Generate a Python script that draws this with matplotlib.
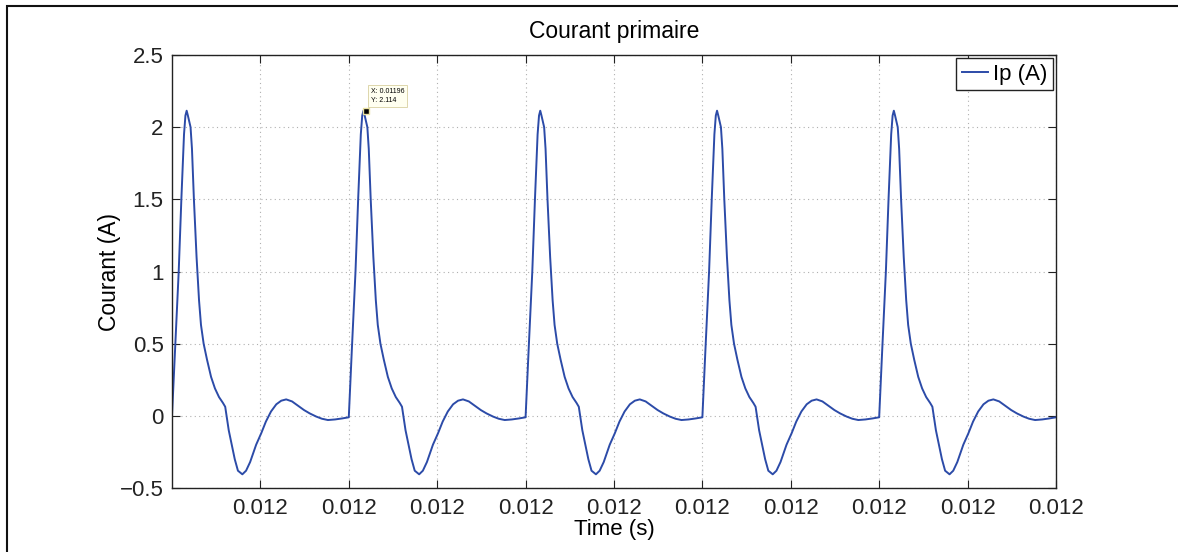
import matplotlib
matplotlib.use("Agg")
import matplotlib.pyplot as plt
import numpy as np
from matplotlib.patches import Rectangle
from matplotlib.ticker import FormatStrFormatter, FuncFormatter

plt.rcParams["font.family"] = ["Liberation Sans", "DejaVu Sans"]

# one period of the primary current
# (time offset from start of period in microseconds, current in A)
PERIOD_US = 100.0
N_PERIODS = 5
T_START = 0.01185
cycle_t_us = [0.0, 1.7, 3.8, 5.3, 6.8, 7.6, 8.3, 9.0, 10.5, 11.3, 12.4, 13.9,
              15.3, 16.4, 17.9, 19.8, 22.1, 24.3, 26.6, 28.8, 30.1, 32.1,
              33.8, 35.5, 37.3, 39.8, 41.9, 44.2, 47.6, 50.5, 53.1, 56.0,
              59.0, 61.8, 64.6, 67.9, 71.3, 74.7, 77.9, 81.6, 84.8, 88.2,
              92.2, 96.2, 100.0]
cycle_ip = [-0.01, 0.45, 1.0, 1.5, 1.95, 2.08, 2.114, 2.08, 2.0, 1.85, 1.5,
            1.1, 0.8, 0.63, 0.5, 0.39, 0.27, 0.19, 0.13, 0.09, 0.063, -0.1,
            -0.2, -0.3, -0.38, -0.405, -0.38, -0.32, -0.2, -0.12, -0.04,
            0.03, 0.08, 0.105, 0.114, 0.1, 0.07, 0.04, 0.017, -0.005, -0.02,
            -0.029, -0.025, -0.018, -0.01]

x_ticks = [0.0119, 0.01195, 0.012, 0.01205, 0.0121, 0.01215, 0.0122,
           0.01225, 0.0123, 0.01235]
y_ticks = [-0.5, 0, 0.5, 1, 1.5, 2, 2.5]

tip_x = 0.01196
tip_y = 2.114

# stack the period back to back, as on the scope trace
time = np.concatenate([T_START + (k * PERIOD_US + np.array(cycle_t_us)) * 1e-6
                       for k in range(N_PERIODS)])
ip = np.tile(cycle_ip, N_PERIODS)
ip[0] = 0.0

fig = plt.figure(figsize=(11.78, 5.52), dpi=100)
ax = fig.add_axes([0.146, 0.1159, 0.7504, 0.7845])

ax.plot(time, ip, color="#2C4BA8", linewidth=1.4, label="Ip (A)")

ax.set_xlim(T_START, T_START + N_PERIODS * PERIOD_US * 1e-6)
ax.set_ylim(-0.5, 2.5)
ax.set_xticks(x_ticks)
ax.set_yticks(y_ticks)
ax.xaxis.set_major_formatter(FormatStrFormatter("%.3f"))
ax.yaxis.set_major_formatter(FuncFormatter(lambda v, p: f"{v:g}".replace("-", "\u2212")))

ax.grid(True, linestyle=(0, (1, 3)), color="#b0b0b0", linewidth=0.8)
ax.tick_params(direction="in", length=6, width=0.8, labelsize=16,
               top=True, right=True, colors="#222222")
ax.tick_params(axis="x", pad=7)
ax.tick_params(axis="y", pad=6)
for spine in ax.spines.values():
    spine.set_linewidth(1.0)
    spine.set_color("#222222")

ax.set_title("Courant primaire", fontsize=16.5, pad=12)
ax.set_xlabel("Time (s)", fontsize=16, labelpad=0)
ax.set_ylabel("Courant (A)", fontsize=16.5, labelpad=-1)

leg = ax.legend(loc="upper right", fontsize=16, handlelength=1.2,
                handletextpad=0.2, borderpad=0.25, borderaxespad=0.15,
                fancybox=False, framealpha=1)
leg.get_frame().set_edgecolor("#222222")
leg.get_frame().set_linewidth(1.0)

# data tip
ax.plot([tip_x], [tip_y], marker="s", markersize=4.5, color="black",
        markeredgecolor="#e8e0a0", linestyle="none")
ax.annotate(f"X: {tip_x}\nY: {tip_y}", xy=(tip_x, tip_y), xytext=(3, 5),
            textcoords="offset points", fontsize=5, va="bottom", ha="left",
            linespacing=1.3,
            bbox=dict(boxstyle="square,pad=0.4", facecolor="#fffff0",
                      edgecolor="#d8d0a0", linewidth=0.6))

# outer frame of the exported figure
fig.add_artist(Rectangle((7 / 1178, -0.1), 1.2, 1.1 - 6 / 552,
                         transform=fig.transFigure, fill=False,
                         edgecolor="#111111", linewidth=1.5, clip_on=False))

fig.savefig("out.png", dpi=100)
